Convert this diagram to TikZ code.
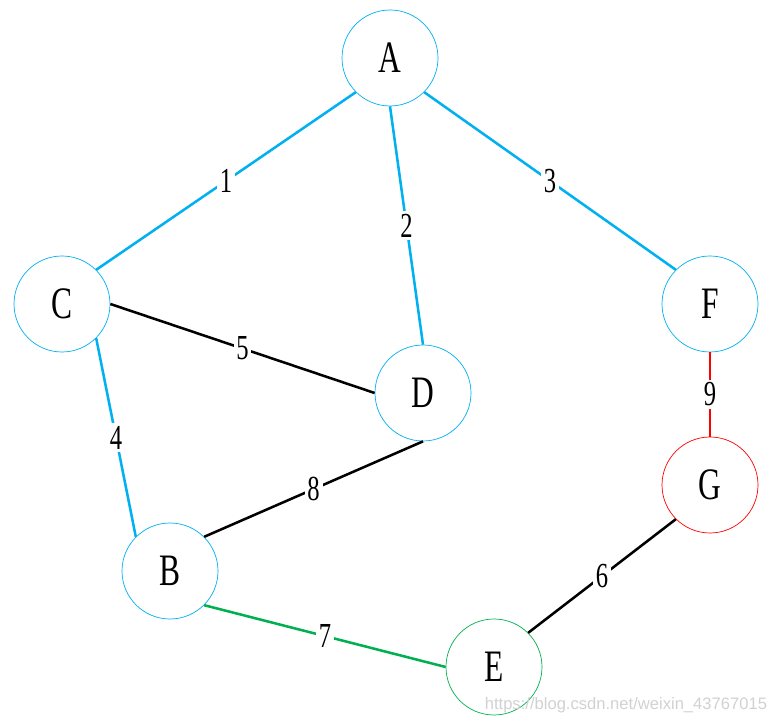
\documentclass[tikz,border=0pt]{standalone}
\usepackage{fontspec}
\setmainfont{Liberation Serif}[FakeStretch=0.7]
\newfontfamily\markfont{Liberation Sans}
\usepackage{tikz}
\usetikzlibrary{positioning, calc}
\definecolor{edgeblue}{RGB}{0, 176, 240}
\definecolor{edgegreen}{RGB}{0, 176, 80}
\definecolor{edgered}{RGB}{255, 0, 0}

\tikzset{
  vertex/.style={circle, draw=#1, line width=0.5pt, minimum size=2.4cm,
                 inner sep=0pt, font=\fontsize{32}{32}\selectfont},
  link/.style={draw=#1, line width=1.8pt},
  weight/.style={midway, fill=white, inner sep=2pt, font=\fontsize{25}{25}\selectfont}
}

\begin{document}
\begin{tikzpicture}
  \useasboundingbox (0,0) rectangle (19.35,18.075);

  % vertices
  \node[vertex=edgeblue]  (A) at (9.75,16.625) {A};
  \node[vertex=edgeblue]  (C) at (1.55,10.475) {C};
  \node[vertex=edgeblue]  (D) at (10.575,8.25) {D};
  \node[vertex=edgeblue]  (F) at (17.75,10.475) {F};
  \node[vertex=edgered]   (G) at (17.75,5.95) {G};
  \node[vertex=edgeblue]  (B) at (4.25,3.8) {B};
  \node[vertex=edgegreen] (E) at (12.35,1.4) {E};

  % edges
  \draw[link=edgeblue]  (A.south west) -- (C.north east) node[weight] {1};
  \draw[link=edgeblue]  (A.south) -- (D.north) node[weight] {2};
  \draw[link=edgeblue]  (A.south east) -- (F.north west) node[weight] {3};
  \draw[link=edgeblue]  (C.south east) -- (B.north west) node[weight] {4};
  \draw[link=black]     (C.east) -- (D.west) node[weight] {5};
  \draw[link=black]     (G.south west) -- (E.north east) node[weight] {6};
  \draw[link=edgegreen] (B.south east) -- (E.west) node[weight] {7};
  \draw[link=black]     (D.south) -- (B.north east) node[weight] {8};
  \draw[link=edgered]   (F.south) -- (G.north) node[weight] {9};

  \node[anchor=south east, text=black!18, font=\markfont\fontsize{11.8}{12}\selectfont]
    (mark) at (19.3,0.12) {https://blog.csdn.net/weixin\_43767015};
\end{tikzpicture}
\end{document}
